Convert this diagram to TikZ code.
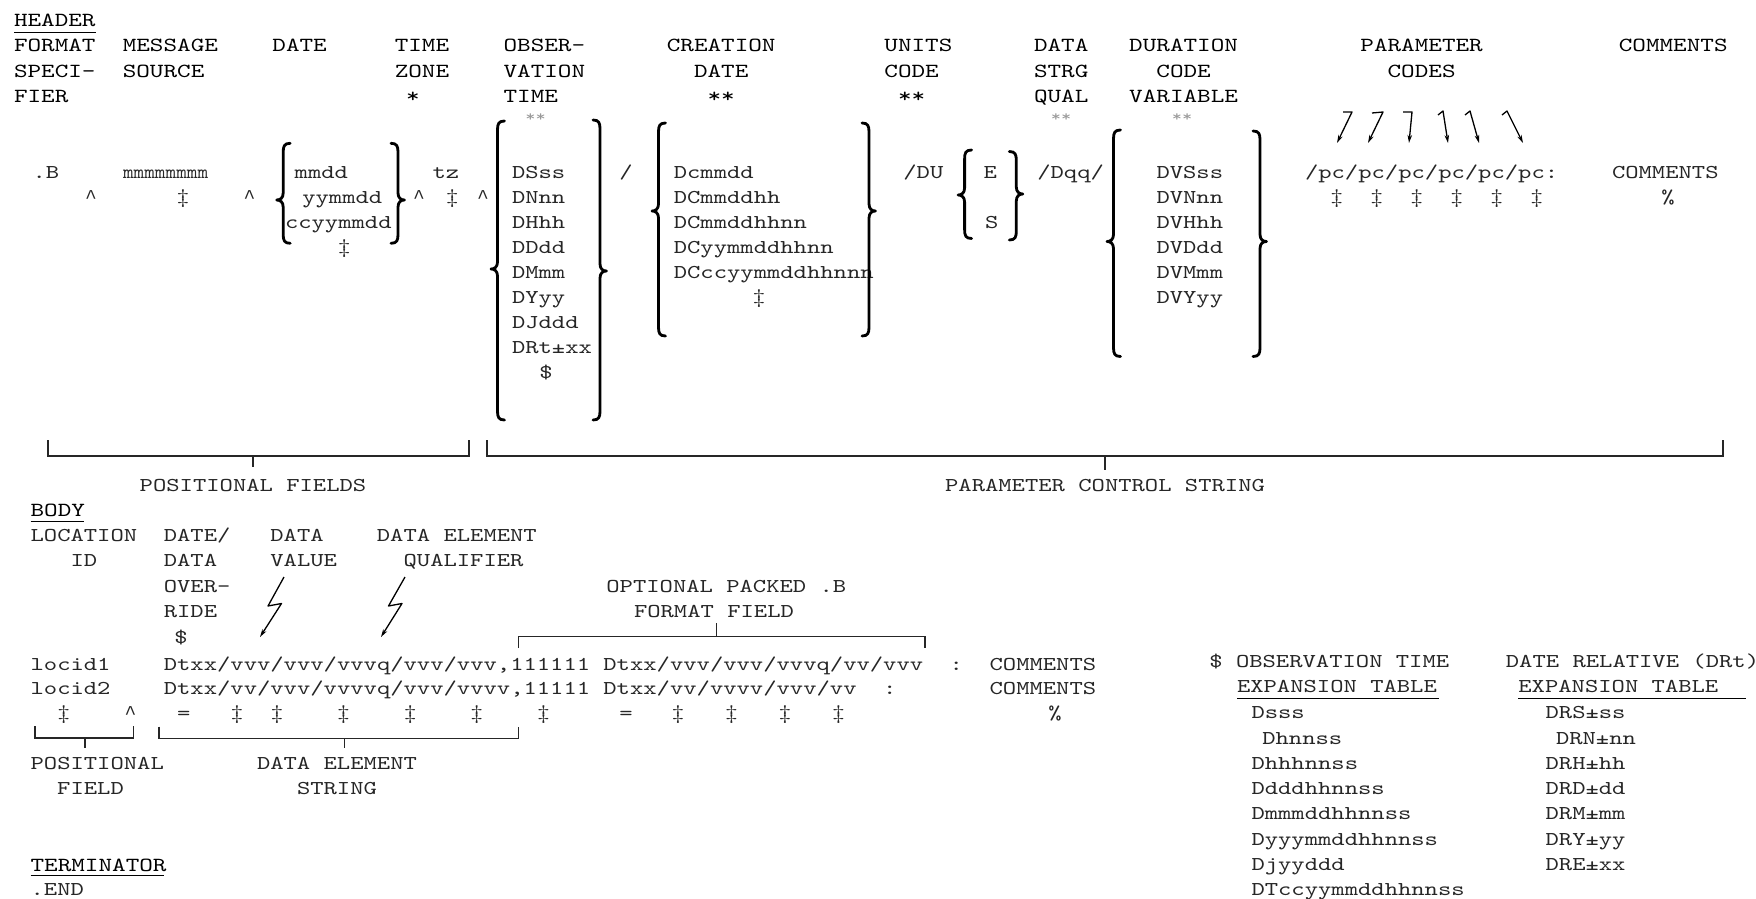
\documentclass[tikz,border=0pt]{standalone}
\usepackage{fontspec}
\newfontfamily\monoH[FakeStretch=1.295]{lmmono10-regular.otf}
\newfontfamily\monoL{Liberation Mono}
\usetikzlibrary{arrows.meta}
\frenchspacing
\tikzset{
  hdr/.style={font=\monoH\fontsize{20}{24}\selectfont, anchor=base west, inner sep=0pt, outer sep=0pt, text=black},
  dat/.style={font=\monoH\fontsize{19.6}{24}\selectfont, anchor=base west, inner sep=0pt, outer sep=0pt, text=black!85},
  datc/.style={dat, anchor=base},
  gry/.style={font=\monoH\fontsize{15}{18}\selectfont, anchor=center, inner sep=0pt, text=black!40},
  brk/.style={line width=2.8pt, line cap=round, line join=round},
  hbr/.style={line width=1.4pt, black!85},
  ul/.style={line width=1.3pt},
  arr/.style={line width=1.3pt, line join=round, -{Stealth[length=8pt,width=4.5pt]}},
}
% left brace: x, top, cusp y, bottom
\newcommand{\mylbr}[4]{%
  \draw[brk] (#1+7,#2) .. controls (#1+1,#2) and (#1,#2+3) .. (#1,#2+9) -- (#1,#3-7)
   .. controls (#1,#3-2) and (#1-3,#3) .. (#1-6.5,#3)
   .. controls (#1-3,#3) and (#1,#3+2) .. (#1,#3+7) -- (#1,#4-9)
   .. controls (#1,#4-3) and (#1+1,#4) .. (#1+7,#4);}
\newcommand{\myrbr}[4]{%
  \draw[brk] (#1-7,#2) .. controls (#1-1,#2) and (#1,#2+3) .. (#1,#2+9) -- (#1,#3-7)
   .. controls (#1,#3-2) and (#1+3,#3) .. (#1+6.5,#3)
   .. controls (#1+3,#3) and (#1,#3+2) .. (#1,#3+7) -- (#1,#4-9)
   .. controls (#1,#4-3) and (#1-1,#4) .. (#1-7,#4);}
\newcommand{\dg}{‡}
\newcommand{\crt}{{\monoL\textasciicircum}}
\begin{document}
\begin{tikzpicture}[x=1pt,y=-1pt]
\useasboundingbox[fill=white] (0,0) rectangle (1756,899);
% ---------------- HEADER labels
\node[hdr] (tHeader) at (14,26.7) {HEADER};
\draw[ul] (14,32.3) -- (95.7,32.3);
\node[hdr] (h1a) at (14,51.7) {FORMAT};
\node[hdr] (h1b) at (122.8,51.7) {MESSAGE};
\node[hdr] (h1c) at (272.4,51.7) {DATE};
\node[hdr] (h1d) at (394.8,51.7) {TIME};
\node[hdr] (h1e) at (503.6,51.7) {OBSER-};
\node[hdr] (h1f) at (666.8,51.7) {CREATION};
\node[hdr] (h1g) at (884.4,51.7) {UNITS};
\node[hdr] (h1h) at (1034,51.7) {DATA};
\node[hdr] (h1i) at (1129.2,51.7) {DURATION};
\node[hdr] (h1j) at (1360.4,51.7) {PARAMETER};
\node[hdr] (h1k) at (1618.8,51.7) {COMMENTS};
\node[hdr] (h2a) at (14,77.3) {SPECI-};
\node[hdr] (h2b) at (122.8,77.3) {SOURCE};
\node[hdr] (h2d) at (394.8,77.3) {ZONE};
\node[hdr] (h2e) at (503.6,77.3) {VATION};
\node[hdr] (h2f) at (694,77.3) {DATE};
\node[hdr] (h2g) at (884.4,77.3) {CODE};
\node[hdr] (h2h) at (1034,77.3) {STRG};
\node[hdr] (h2i) at (1156.4,77.3) {CODE};
\node[hdr] (h2j) at (1387.6,77.3) {CODES};
\node[hdr] (h3a) at (14,102.7) {FIER};
\node[hdr] (h3d) at (406,102.7) {*};
\node[hdr] (h3e) at (503.6,102.7) {TIME};
\node[hdr] (h3f) at (707.6,102.7) {**};
\node[hdr] (h3g) at (898,102.7) {**};
\node[hdr] (h3h) at (1034,102.7) {QUAL};
\node[hdr] (h3i) at (1129.2,102.7) {VARIABLE};
\node[gry] (g1) at (535.5,118) {**};
\node[gry] (g2) at (1061,118) {**};
\node[gry] (g3) at (1182,118) {**};
% ---------------- HEADER data
\node[dat] (dB) at (32.5,178) {.B};
\node[dat] (dMsg) at (123,178) {\scalebox{0.8}[1]{mmmmmmmm}};
\node[dat] (dDa1) at (294.7,178) {mmdd};
\node[dat] (dDa2) at (302.3,203) {yymmdd};
\node[dat] (dDa3) at (285,228) {ccyymmdd};
\node[datc] (dDaH) at (344.4,253) {\dg};
\node[dat] (dTz) at (432.5,178) {tz};
\node[datc] (c1) at (91,203) {\crt};
\node[datc] (c2) at (183,203) {\dg};
\node[datc] (c3) at (249.5,203) {\crt};
\node[datc] (c4) at (419,203) {\crt};
\node[datc] (c5) at (452.3,203) {\dg};
\node[datc] (c6) at (483,203) {\crt};
% observation time
\node[dat] (o1) at (512,178) {DSss};
\node[dat] (o2) at (512,203) {DNnn};
\node[dat] (o3) at (512,228) {DHhh};
\node[dat] (o4) at (512,253) {DDdd};
\node[dat] (o5) at (512,278) {DMmm};
\node[dat] (o6) at (512,303) {DYyy};
\node[dat] (o7) at (512,328) {DJddd};
\node[dat] (o8) at (512,353) {DRt±xx};
\node[datc] (o9) at (546,378) {\$};
\node[datc] (sl1) at (626,178) {/};
% creation date
\node[dat] (cr1) at (673.8,178) {Dcmmdd};
\node[dat] (cr2) at (673.8,203) {DCmmddhh};
\node[dat] (cr3) at (673.8,228) {DCmmddhhnn};
\node[dat] (cr4) at (673.8,253) {DCyymmddhhnn};
\node[dat] (cr5) at (673.8,278) {DCccyymmddhhnnn};
\node[datc] (cr6) at (759,303) {\dg};
% units / qualifier
\node[dat] (du) at (903.4,178) {/DU};
\node[dat] (uE) at (983.7,178) {E};
\node[dat] (uS) at (985,228) {S};
\node[dat] (dq) at (1037.3,178) {/Dqq/};
% duration
\node[dat] (dv1) at (1156.5,178) {DVSss};
\node[dat] (dv2) at (1156.5,203) {DVNnn};
\node[dat] (dv3) at (1156.5,228) {DVHhh};
\node[dat] (dv4) at (1156.5,253) {DVDdd};
\node[dat] (dv5) at (1156.5,278) {DVMmm};
\node[dat] (dv6) at (1156.5,303) {DVYyy};
% parameter codes
\node[dat] (pc) at (1305,178) {/pc/pc/pc/pc/pc/pc:};
\foreach \i/\xx in {1/1336.7,2/1376.7,3/1416.7,4/1456.7,5/1496.7,6/1536.7}
  \node[datc] (pch\i) at (\xx,203) {\dg};
\node[dat] (cm) at (1612,178) {COMMENTS};
\node[datc] (cmp) at (1668,203) {\%};
% braces
\mylbr{283.2}{143.3}{200}{243.3}
\myrbr{398}{143.3}{200}{243.3}
\mylbr{497.5}{121}{269}{420}
\myrbr{600}{120}{271}{420}
\mylbr{658.5}{123}{211}{336}
\myrbr{869}{123}{211}{336}
\mylbr{964.6}{150}{195}{238.5}
\myrbr{1016.3}{151.5}{194}{240}
\mylbr{1113.5}{130}{241.5}{356.5}
\myrbr{1260}{131}{241.5}{356.5}
% parameter code arrows
\coordinate (pa1) at (1343,112); \coordinate (pt1) at (1337,143);
\coordinate (pa2) at (1372,113); \coordinate (pt2) at (1368,143);
\coordinate (pa3) at (1403,112); \coordinate (pt3) at (1409,143);
\coordinate (pa4) at (1438,115); \coordinate (pt4) at (1448,143);
\coordinate (pa5) at (1465,115); \coordinate (pt5) at (1479,143);
\coordinate (pa6) at (1502,115); \coordinate (pt6) at (1523,143);
\draw[arr] (pa1) -- ++(9,0) -- (pt1);
\draw[arr] (pa2) -- ++(11,-1) -- (pt2);
\draw[arr] (pa3) -- ++(9,0) -- (pt3);
\draw[arr] (pa4) -- ++(5,-4) -- (pt4);
\draw[arr] (pa5) -- ++(5,-4) -- (pt5);
\draw[arr] (pa6) -- ++(5,-4) -- (pt6);
% header brackets
\draw[hbr] (48,440) -- (48,456) -- (469,456) -- (469,440);
\draw[hbr] (253,456) -- (253,467);
\draw[hbr] (487,440) -- (487,456) -- (1723,456) -- (1723,440);
\draw[hbr] (1105,456) -- (1105,470);
\node[datc] (posF) at (253,491) {POSITIONAL FIELDS};
\node[datc] (pcs) at (1105,491) {PARAMETER CONTROL STRING};
% ---------------- BODY
\node[hdr] (tBody) at (30.6,516) {BODY};
\draw[ul] (30.6,521.7) -- (84,521.7);
\node[dat] (b1a) at (30.6,541) {LOCATION};
\node[dat] (b1b) at (163.8,541) {DATE/};
\node[dat] (b1c) at (270.4,541) {DATA};
\node[dat] (b1d) at (376.9,541) {DATA ELEMENT};
\node[dat] (b2a) at (70.6,566.5) {ID};
\node[dat] (b2b) at (163.8,566.5) {DATA};
\node[dat] (b2c) at (270.4,566.5) {VALUE};
\node[dat] (b2d) at (403.6,566.5) {QUALIFIER};
\node[dat] (b3b) at (163.8,592) {OVER-};
\node[dat] (b4b) at (163.8,617.5) {RIDE};
\node[datc] (b5b) at (181,643) {\$};
\node[dat] (opt1) at (606.4,592) {OPTIONAL PACKED .B};
\node[dat] (opt2) at (634,617.5) {FORMAT FIELD};
% lightning arrows
\coordinate (la1) at (284,577); \coordinate (lt1) at (260,637);
\coordinate (la2) at (405,577); \coordinate (lt2) at (381,637);
\draw[arr] (la1) -- ++(-16,29) -- ++(13.5,-2.5) -- (lt1);
\draw[arr] (la2) -- ++(-16.5,29) -- ++(13.5,-2.5) -- (lt2);
% data rows
\node[dat] (r1a) at (30.6,670) {locid1};
\node[dat] (r1b) at (163.8,670) {Dtxx/vvv/vvv/vvvq/vvv/vvv,111111};
\node[dat] (r1c) at (603.4,670) {Dtxx/vvv/vvv/vvvq/vv/vvv};
\node[dat] (r1d) at (949.7,670) {:};
\node[dat] (r1e) at (989.6,670) {COMMENTS};
\node[dat] (r2a) at (30.6,694.5) {locid2};
\node[dat] (r2b) at (163.8,694.5) {Dtxx/vv/vvv/vvvvq/vvv/vvvv,11111};
\node[dat] (r2c) at (603.4,694.5) {Dtxx/vv/vvvv/vvv/vv};
\node[dat] (r2d) at (883.1,694.5) {:};
\node[dat] (r2e) at (989.6,694.5) {COMMENTS};
\node[datc] (r3a) at (63.9,719) {\dg};
\node[datc] (r3b) at (130.5,719) {\crt};
\node[datc] (r3c) at (183.8,719) {=};
\node[datc] (r3d) at (237.1,719) {\dg};
\node[datc] (r3e) at (277,719) {\dg};
\node[datc] (r3f) at (343.6,719) {\dg};
\node[datc] (r3g) at (410.3,719) {\dg};
\node[datc] (r3h) at (476.9,719) {\dg};
\node[datc] (r3i) at (543.5,719) {\dg};
\node[datc] (r3j) at (626,719) {=};
\node[datc] (r3k) at (678,719) {\dg};
\node[datc] (r3l) at (731.5,719) {\dg};
\node[datc] (r3m) at (785,719) {\dg};
\node[datc] (r3n) at (838.5,719) {\dg};
\node[datc] (r3o) at (1055,719) {\%};
% body brackets
\draw[hbr] (35,726) -- (35,738) -- (133.3,738) -- (133.3,726);
\draw[hbr] (85,738) -- (85,748);
\draw[hbr] (158.8,726.7) -- (158.8,738.3) -- (518.6,738.3) -- (518.6,726.7);
\draw[hbr] (344.4,738.3) -- (344.4,748);
\draw[hbr] (518.6,648) -- (518.6,636.7) -- (924.8,636.7) -- (924.8,648);
\draw[hbr] (716.2,636.7) -- (716.2,623.3);
\node[dat] (pf1) at (30.6,769) {POSITIONAL};
\node[dat] (pf2) at (57.2,794) {FIELD};
\node[dat] (de1) at (257,769) {DATA ELEMENT};
\node[dat] (de2) at (297,794) {STRING};
% ---------------- TERMINATOR
\node[hdr] (tTerm) at (30.6,871) {TERMINATOR};
\draw[ul] (30.6,875.5) -- (163.8,875.5);
\node[dat] (tEnd) at (30.6,895) {.END};
% ---------------- expansion tables
\node[dat] (x1a) at (1209.4,667.5) {\$};
\node[dat] (x1b) at (1236,667.5) {OBSERVATION TIME};
\node[dat] (x1c) at (1237,692.5) {EXPANSION TABLE};
\draw[ul] (1237,698.3) -- (1439,698.3);
\node[dat] (x2a) at (1505.9,667.5) {DATE RELATIVE (DRt)};
\node[dat] (x2c) at (1518.4,692.5) {EXPANSION TABLE};
\draw[ul] (1518.4,698.3) -- (1746,698.3);
\node[dat] (e1) at (1251.5,718.5) {Dsss};
\node[dat] (e2) at (1262.3,744) {Dhnnss};
\node[dat] (e3) at (1251.5,769) {Dhhhnnss};
\node[dat] (e4) at (1251.5,794) {Ddddhhnnss};
\node[dat] (e5) at (1251.5,819) {Dmmmddhhnnss};
\node[dat] (e6) at (1251.5,845) {Dyyymmddhhnnss};
\node[dat] (e7) at (1251.5,870) {Djyyddd};
\node[dat] (e8) at (1251.5,895) {DTccyymmddhhnnss};
\node[dat] (f1) at (1545.6,718.5) {DRS±ss};
\node[dat] (f2) at (1556,744) {DRN±nn};
\node[dat] (f3) at (1545.6,769) {DRH±hh};
\node[dat] (f4) at (1545.6,794) {DRD±dd};
\node[dat] (f5) at (1545.6,819) {DRM±mm};
\node[dat] (f6) at (1545.6,845) {DRY±yy};
\node[dat] (f7) at (1545.6,870) {DRE±xx};
\end{tikzpicture}
\end{document}
